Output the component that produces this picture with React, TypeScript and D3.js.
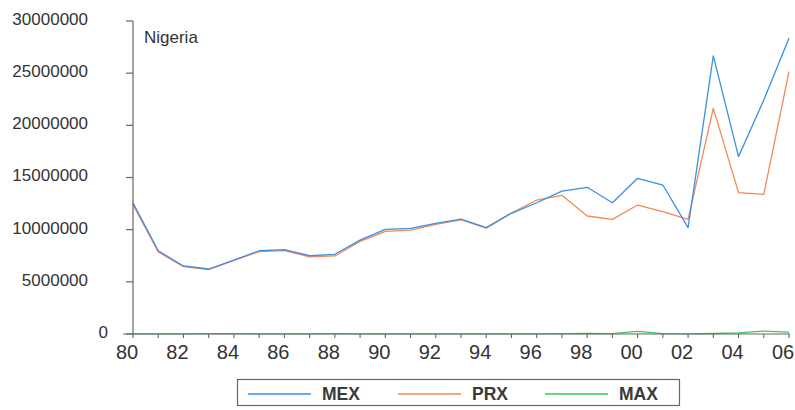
import React from "react";
import * as d3 from "d3";

// Nigeria: annual series, 1980–2006
const years = [
  1980, 1981, 1982, 1983, 1984, 1985, 1986, 1987, 1988, 1989, 1990, 1991, 1992, 1993,
  1994, 1995, 1996, 1997, 1998, 1999, 2000, 2001, 2002, 2003, 2004, 2005, 2006,
];

const mex = [
  12580000, 7980000, 6520000, 6230000, 7090000, 7980000, 8080000, 7500000, 7640000,
  9000000, 10030000, 10130000, 10600000, 11000000, 10190000, 11570000, 12580000,
  13700000, 14060000, 12580000, 14920000, 14280000, 10190000, 26650000, 17000000,
  22430000, 28340000,
];

const prx = [
  12400000, 7860000, 6450000, 6180000, 7050000, 7900000, 8000000, 7400000, 7480000,
  8870000, 9840000, 9950000, 10500000, 10950000, 10150000, 11600000, 12840000,
  13290000, 11310000, 10990000, 12360000, 11720000, 10990000, 21630000, 13550000,
  13390000, 25140000,
];

const max = [
  20000, 20000, 20000, 30000, 30000, 20000, 20000, 20000, 30000, 20000, 20000, 20000,
  20000, 20000, 20000, 20000, 20000, 30000, 60000, 30000, 250000, 30000, 10000, 50000,
  100000, 280000, 180000,
];

const yTicks = [0, 5000000, 10000000, 15000000, 20000000, 25000000, 30000000];
const xLabelYears = [1980, 1982, 1984, 1986, 1988, 1990, 1992, 1994, 1996, 1998, 2000, 2002, 2004, 2006];

const seriesList = [
  { name: "MAX", values: max, color: "#3cc65e" },
  { name: "PRX", values: prx, color: "#f3875a" },
  { name: "MEX", values: mex, color: "#3d8fe0" },
];
const legendOrder = ["MEX", "PRX", "MAX"];

const W = 795;
const H = 410;
const left = 133;
const right = 790;
const top = 21;
const bottom = 334;

const FONT = "'Liberation Sans', Arial, Helvetica, sans-serif";
const TEXT = "#333";
const AXIS = "#666";

export default function App() {
  const x = d3.scaleLinear().domain([1980, 2006]).range([left, right - 1]);
  const y = d3.scaleLinear().domain([0, 30000000]).range([bottom, top]);

  const line = (vals: number[]) =>
    d3
      .line<number>()
      .x((_, i) => x(years[i]))
      .y((v) => y(v))(vals) as string;

  const legendX = [248, 398, 545];

  return (
    <svg
      width={W}
      height={H}
      style={{ position: "absolute", left: 0, top: 0, background: "#fff" }}
      fontFamily={FONT}
    >
      <rect width={W} height={H} fill="#fff" />

      {/* series */}
      {seriesList.map((s) => (
        <path key={s.name} d={line(s.values)} fill="none" stroke={s.color} strokeWidth={1.3} strokeLinejoin="round" />
      ))}

      {/* y axis */}
      <line x1={left} x2={left} y1={top} y2={bottom} stroke={AXIS} strokeWidth={1.2} />
      {yTicks.map((t) => (
        <g key={t}>
          <line x1={left - 7} x2={left} y1={y(t)} y2={y(t)} stroke={AXIS} strokeWidth={1.2} />
          <text
            x={t === 0 ? left - 25 : left - 45}
            y={y(t) - 2}
            dy="0.35em"
            textAnchor="end"
            fontSize={17}
            fill={TEXT}
          >
            {String(t)}
          </text>
        </g>
      ))}

      {/* x axis */}
      <line x1={123} x2={right} y1={bottom} y2={bottom} stroke={AXIS} strokeWidth={1.2} />
      {years.map((yr) => (
        <line key={yr} x1={x(yr)} x2={x(yr)} y1={bottom} y2={bottom + 4} stroke={AXIS} strokeWidth={1.1} />
      ))}
      {xLabelYears.map((yr) => (
        <text key={yr} x={x(yr) - 6} y={359} textAnchor="middle" fontSize={20} fill={TEXT}>
          {String(yr).slice(2)}
        </text>
      ))}

      {/* title */}
      <text x={144} y={43} fontSize={17} fill={TEXT}>
        Nigeria
      </text>

      {/* legend */}
      <rect x={237.5} y={379.5} width={442} height={26} fill="none" stroke={AXIS} strokeWidth={1.2} />
      {legendOrder.map((name, i) => {
        const s = seriesList.find((d) => d.name === name)!;
        return (
          <g key={name}>
            <line x1={legendX[i]} x2={legendX[i] + 63} y1={394} y2={394} stroke={s.color} strokeWidth={1.3} />
            <text x={legendX[i] + 74} y={400} fontSize={17.5} fontWeight="bold" fill="#3a3a3a">
              {name}
            </text>
          </g>
        );
      })}
    </svg>
  );
}
